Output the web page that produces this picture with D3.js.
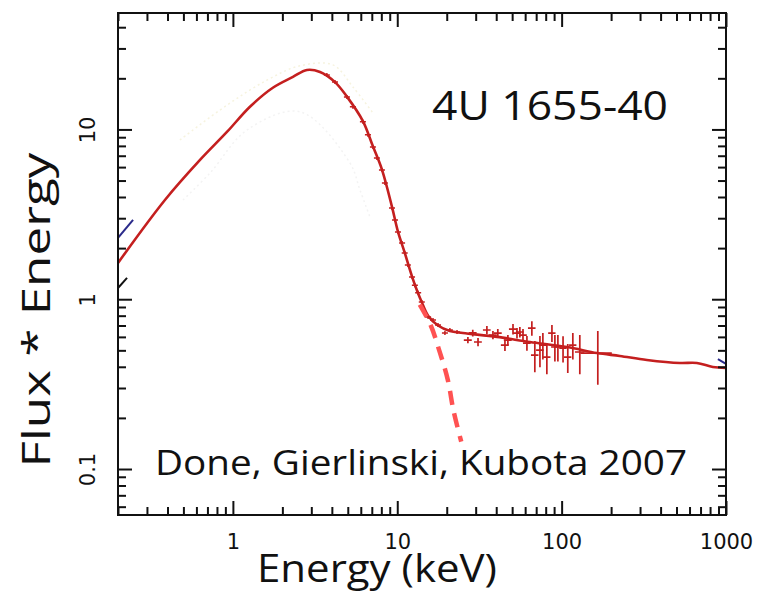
<!DOCTYPE html>
<html>
<head>
<meta charset="utf-8">
<script src="https://cdn.jsdelivr.net/npm/d3@7"></script>
<style>
  html, body { margin: 0; padding: 0; background: #fff; }
  svg { display: block; }
  .lbl { font-family: "Open Sans", "Lato", sans-serif; fill: #111; }
  .tick text { font-family: "DejaVu Sans", sans-serif; fill: #111; }
</style>
</head>
<body>
<svg id="chart"></svg>
<script>
// model curve (total), keV vs flux*energy
var modelE = [0.2, 0.386, 0.631, 0.92, 1.27, 1.75, 2.32, 2.82, 3.39, 4.18, 4.94, 6.18, 7.11, 8.07,
    9.29, 10.1, 11.1, 12.3, 13.4, 14.1, 15.4, 17.7, 20.9, 25.1, 40.4, 64.1, 108, 164,
    226, 330, 524, 665, 832, 1000];
var modelF = [1.635, 3.84, 6.61, 9.66, 13.6, 17.6, 20.4, 22.4, 21.8, 19.0, 15.6, 11.2, 7.95, 5.8,
    3.5, 2.5, 1.88, 1.36, 1.08, 0.96, 0.80, 0.70, 0.65, 0.633, 0.600, 0.56, 0.523, 0.482,
    0.463, 0.439, 0.421, 0.421, 0.399, 0.394];

// disc component, dashed where it drops below the total
var discE = [13.7, 16, 18, 20.3, 22, 24.5];
var discF = [0.93, 0.7, 0.5, 0.335, 0.22, 0.145];

// faint extra components
var compAE = [0.476, 0.92, 1.61, 2.56, 4.06, 5.37, 7.11];
var compAF = [8.67, 13.9, 19.5, 23.7, 24.0, 17.8, 12.5];
var compBE = [0.497, 0.726, 1.22, 2.56, 5.15, 5.93, 6.82];
var compBF = [3.84, 5.54, 9.93, 12.7, 6.35, 4.40, 3.05];

// stubs at the plot edges
var blueE = [0.2, 0.247];
var blueF = [2.30, 2.93];
var blackE = [0.2, 0.227];
var blackF = [1.165, 1.335];
var blueRE = [893, 1000];
var blueRF = [0.444, 0.416];

// dense data on the steep part (tiny error bars)
var steepE = [3.73, 4.18, 4.94, 5.37, 6.18, 6.63, 7.11, 7.52, 8.07, 8.41, 9.29, 9.69, 10.1, 10.7,
    11.1, 11.6, 12.3, 12.8, 13.4, 14.1, 15.4, 16.5, 17.7, 19.5, 20.9, 23.1];
var steepF = [20.9, 19.0, 15.5, 13.6, 11.1, 9.29, 7.89, 6.79, 5.77, 4.84, 3.45, 2.93, 2.49, 2.14,
    1.87, 1.59, 1.35, 1.21, 1.09, 0.964, 0.786, 0.755, 0.705, 0.633, 0.659, 0.641];

// high energy data with error bars
var specE = [26.9, 28.8, 31.0, 35.1, 38.2, 40.9, 45.2, 47.1, 50.6, 53.5, 55.7, 58.2, 61.5, 65.9,
    68.7, 73.8, 76.9, 81.3, 87.3, 91.0, 94.9, 102, 109, 117, 129, 166];
var specF = [0.575, 0.633, 0.56, 0.659, 0.615, 0.632, 0.537, 0.575, 0.667, 0.632, 0.641, 0.615, 0.552, 0.676,
    0.469, 0.502, 0.537, 0.456, 0.632, 0.523, 0.523, 0.515, 0.456, 0.537, 0.489, 0.482];
var specFErr = [0.024, 0.029, 0.031, 0.037, 0.034, 0.035, 0.042, 0.040, 0.047, 0.044, 0.045, 0.052, 0.055, 0.067,
    0.098, 0.105, 0.095, 0.095, 0.072, 0.093, 0.093, 0.091, 0.088, 0.095, 0.127, 0.168];
var specEErr = [1.5, 1.6, 1.7, 1.9, 2.1, 2.3, 2.5, 2.6, 2.8, 2.9, 3.0, 3.2, 3.3, 3.5,
    3.6, 3.9, 4.0, 4.2, 4.5, 4.7, 4.9, 5.3, 5.6, 6.0, 8.5, 36];

var xTicks = [1, 10, 100, 1000];
var yTicks = [0.1, 1, 10];

var chartW = 766, chartH = 592;
var plotL = 118, plotR = 726, plotT = 13, plotB = 515;

var svg = d3.select('#chart').attr('width', chartW).attr('height', chartH);

var x = d3.scaleLog().domain([0.2, 1000]).range([plotL, plotR]);
var y = d3.scaleLog().domain([0.0536, 48.5]).range([plotB, plotT]);

// all 1..9 x 10^n ticks inside the domain
function logTicks(scale) {
    var d = scale.domain(), out = [];
    for (var p = -3; p <= 4; p++) {
        for (var m = 1; m < 10; m++) {
            var v = +(m * Math.pow(10, p)).toPrecision(3);
            if (v >= d[0] * 0.9999 && v <= d[1] * 1.0001) out.push(v);
        }
    }
    return out;
}
function isMajor(v) {
    var l = Math.log10(v);
    return Math.abs(l - Math.round(l)) < 1e-6;
}

svg.append('clipPath').attr('id', 'plotclip')
    .append('rect').attr('x', plotL).attr('y', plotT)
    .attr('width', plotR - plotL).attr('height', plotB - plotT);

var plot = svg.append('g').attr('clip-path', 'url(#plotclip)');

var line = d3.line()
    .x(function (d) { return x(d[0]); })
    .y(function (d) { return y(d[1]); })
    .curve(d3.curveMonotoneX);

// smoother for the model, no flat spot at the peak
var smooth = d3.line()
    .x(function (d) { return x(d[0]); })
    .y(function (d) { return y(d[1]); })
    .curve(d3.curveCatmullRom.alpha(0.5));

function pairs(a, b) { return a.map(function (v, i) { return [v, b[i]]; }); }

// barely visible dotted components
plot.append('path').datum(pairs(compAE, compAF))
    .attr('fill', 'none').attr('stroke', '#f6f3df').attr('stroke-width', 1.5)
    .attr('stroke-dasharray', '2,3').attr('d', smooth);
plot.append('path').datum(pairs(compBE, compBF))
    .attr('fill', 'none').attr('stroke', '#f3f3f3').attr('stroke-width', 1.5)
    .attr('stroke-dasharray', '2,3').attr('d', smooth);

plot.append('path').datum(pairs(blueE, blueF))
    .attr('fill', 'none').attr('stroke', '#2a2a8a').attr('stroke-width', 2).attr('d', line);
plot.append('path').datum(pairs(blackE, blackF))
    .attr('fill', 'none').attr('stroke', '#111').attr('stroke-width', 2).attr('d', line);
plot.append('path').datum(pairs(blueRE, blueRF))
    .attr('fill', 'none').attr('stroke', '#2a2a8a').attr('stroke-width', 2).attr('d', line);

// dense markers
plot.selectAll('.steep').data(pairs(steepE, steepF)).enter().append('path')
    .attr('class', 'steep')
    .attr('stroke', '#c41f1f').attr('stroke-width', 1.5).attr('fill', 'none')
    .attr('d', function (d) {
        var cx = x(d[0]), cy = y(d[1]);
        return 'M' + (cx - 3) + ',' + cy + 'H' + (cx + 3) + 'M' + cx + ',' + (cy - 2) + 'V' + (cy + 2);
    });

// error bar crosses
var spec = specE.map(function (e, i) {
    return { e: e, f: specF[i], fe: specFErr[i], ee: specEErr[i] };
});
plot.selectAll('.cross').data(spec).enter().append('path')
    .attr('class', 'cross')
    .attr('stroke', '#c41f1f').attr('stroke-width', 1.7).attr('fill', 'none')
    .attr('d', function (d) {
        var cx = x(d.e), cy = y(d.f);
        return 'M' + x(d.e - d.ee) + ',' + cy + 'H' + x(d.e + d.ee) +
            'M' + cx + ',' + y(d.f + d.fe) + 'V' + y(d.f - d.fe);
    });

plot.append('path').datum(pairs(modelE, modelF))
    .attr('fill', 'none').attr('stroke', '#c41f1f').attr('stroke-width', 2.6)
    .attr('stroke-linejoin', 'round').attr('d', smooth);

plot.append('path').datum(pairs(discE, discF))
    .attr('fill', 'none').attr('stroke', '#ff5252').attr('stroke-width', 4.5)
    .attr('stroke-dasharray', '14,9').attr('d', smooth);

// axes: ticks on all four sides, pointing inward
var xt = logTicks(x), yt = logTicks(y);
function fmtX(v) { return xTicks.indexOf(v) >= 0 ? String(v) : ''; }
function fmtY(v) { return yTicks.indexOf(v) >= 0 ? String(v) : ''; }

function styleAxis(g, dir) {
    g.select('.domain').remove();
    g.selectAll('.tick line').attr('stroke', '#111').attr('stroke-width', 2)
        .each(function (d) {
            var len = isMajor(d) ? 14 : 8;
            var el = d3.select(this);
            if (dir === 'bottom') el.attr('y2', -len);
            if (dir === 'top') el.attr('y2', len);
            if (dir === 'left') el.attr('x2', len);
            if (dir === 'right') el.attr('x2', -len);
        });
}

var gx = svg.append('g').attr('transform', 'translate(0,' + plotB + ')')
    .call(d3.axisBottom(x).tickValues(xt).tickFormat(fmtX).tickSize(-8));
styleAxis(gx, 'bottom');
gx.selectAll('.tick text').attr('y', 19).attr('dy', '0.71em').attr('font-size', 21);

var gxt = svg.append('g').attr('transform', 'translate(0,' + plotT + ')')
    .call(d3.axisTop(x).tickValues(xt).tickFormat('').tickSize(-8));
styleAxis(gxt, 'top');

var gy = svg.append('g').attr('transform', 'translate(' + plotL + ',0)')
    .call(d3.axisLeft(y).tickValues(yt).tickFormat(fmtY).tickSize(-8));
styleAxis(gy, 'left');
gy.selectAll('.tick text')
    .attr('text-anchor', 'middle').attr('font-size', 21)
    .attr('transform', 'rotate(-90)')
    .attr('x', 0).attr('y', -23).attr('dy', 0);

var gyr = svg.append('g').attr('transform', 'translate(' + plotR + ',0)')
    .call(d3.axisRight(y).tickValues(yt).tickFormat('').tickSize(-8));
styleAxis(gyr, 'right');

svg.append('rect').attr('x', plotL).attr('y', plotT)
    .attr('width', plotR - plotL).attr('height', plotB - plotT)
    .attr('fill', 'none').attr('stroke', '#111').attr('stroke-width', 2);

// labels
svg.append('text').attr('class', 'lbl')
    .attr('x', 550).attr('y', 120).attr('text-anchor', 'middle')
    .attr('font-size', 40).attr('textLength', 236).attr('lengthAdjust', 'spacingAndGlyphs')
    .text('4U 1655-40');

svg.append('text').attr('class', 'lbl')
    .attr('x', 421).attr('y', 475).attr('text-anchor', 'middle')
    .attr('font-size', 35).attr('textLength', 532).attr('lengthAdjust', 'spacingAndGlyphs')
    .text('Done, Gierlinski, Kubota 2007');

svg.append('text').attr('class', 'lbl')
    .attr('x', 377).attr('y', 582).attr('text-anchor', 'middle')
    .attr('font-size', 38).attr('textLength', 240).attr('lengthAdjust', 'spacingAndGlyphs')
    .text('Energy (keV)');

svg.append('text').attr('class', 'lbl')
    .attr('transform', 'translate(50,310) rotate(-90)')
    .attr('text-anchor', 'middle')
    .attr('font-size', 39).attr('textLength', 315).attr('lengthAdjust', 'spacingAndGlyphs')
    .text('Flux * Energy');
</script>
</body>
</html>
